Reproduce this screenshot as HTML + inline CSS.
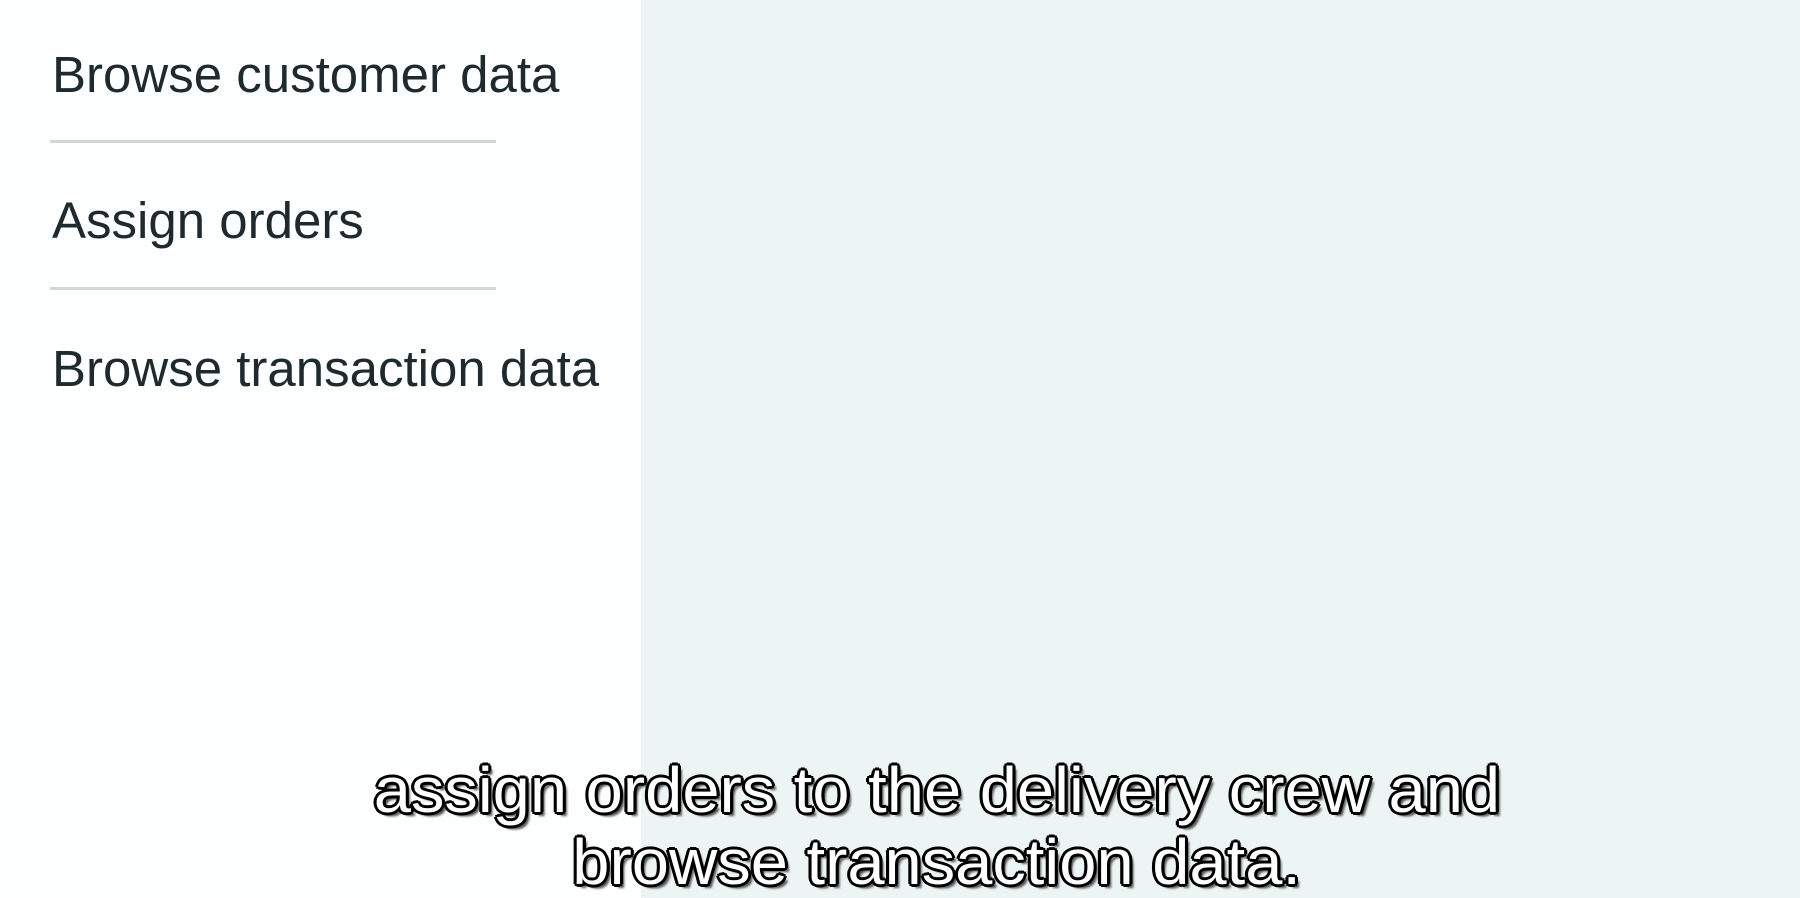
<!DOCTYPE html>
<html><head><style>
html,body{margin:0;padding:0}
body{width:1800px;height:898px;position:relative;overflow:hidden;background:#fdfefe;font-family:"Liberation Sans",sans-serif}
.right{position:absolute;left:641px;top:0;width:1159px;height:898px;background:#edf5f4}
.item{position:absolute;left:52px;font-size:51px;color:#1f2a2e;line-height:1;white-space:nowrap}
.line{position:absolute;left:50px;width:446px;height:3px;background:#d3d6d8}
.sub{position:absolute;left:37px;width:1800px;text-align:center;font-size:64px;color:#fff;line-height:1;white-space:nowrap}
.sub span{display:inline-block;transform:scaleX(1.045);
text-shadow:-2px -2px 0 #000,2px -2px 0 #000,-2px 2px 0 #000,2px 2px 0 #000,0 -3px 0 #000,0 3px 0 #000,-3px 0 0 #000,3px 0 0 #000,4px 4px 2px #555}
</style></head><body>
<div class="right"></div>
<div class="item" style="top:49px">Browse customer data</div>
<div class="line" style="top:140px"></div>
<div class="item" style="top:195px">Assign orders</div>
<div class="line" style="top:287px"></div>
<div class="item" style="top:343px">Browse transaction data</div>
<div class="sub" style="top:758px"><span>assign orders to the delivery crew and</span></div>
<div class="sub" style="top:830px"><span>browse transaction data.</span></div>
</body></html>
